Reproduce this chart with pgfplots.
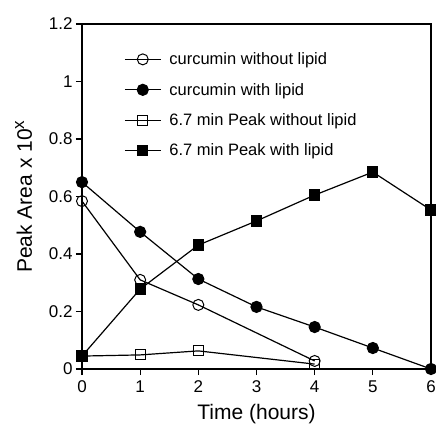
\documentclass[border=0pt]{standalone}
\usepackage{fontspec}
\setmainfont{Liberation Sans}
\usepackage{pgfplots}
\pgfplotsset{compat=1.18}

\begin{document}
\begin{tikzpicture}
\begin{axis}[
    width=349pt, height=345pt,
    scale only axis,
    xmin=0, xmax=6,
    ymin=0, ymax=1.2,
    xtick={0,1,2,3,4,5,6},
    ytick={0,0.2,0.4,0.6,0.8,1,1.2},
    yticklabels={0,0.2,0.4,0.6,0.8,1,1.2},
    tick align=outside,
    tick pos=left,
    major tick length=6pt,
    axis line style={line width=1.4pt},
    every tick/.style={black, line width=1.2pt},
    tick label style={font=\fontsize{17}{19}\selectfont},
    xticklabel style={yshift=-2pt},
    /pgf/number format/assume math mode=true,
    xlabel={Time (hours)},
    ylabel={Peak Area x 10\textsuperscript{\fontsize{17}{19}\selectfont x}},
    label style={font=\fontsize{21}{24}\selectfont},
    xlabel style={yshift=-5pt},
    ylabel style={yshift=10pt},
    legend style={draw=none, fill=none, at={(axis cs:0.67,1.115)}, anchor=north west,
        font=\fontsize{16.5}{18}\selectfont, row sep=13pt, column sep=6pt},
    legend cell align=left,
    legend image code/.code={
        \draw[mark repeat=2,mark phase=2] plot coordinates {(0pt,0pt) (18pt,0pt) (36pt,0pt)};
    },
    every axis plot/.append style={black, line width=1.2pt, mark size=5.5pt},
]
\addplot[mark=o, mark options={line width=1pt}] coordinates {
    (0,0.584)(1,0.31)(2,0.223)(4,0.028)
};
\addplot[mark=*] coordinates {
    (0,0.65)(1,0.477)(2,0.313)(3,0.216)(4,0.146)(5,0.073)(6,0.0)
};
\addplot[mark=square, mark options={line width=1pt}, mark size=5pt] coordinates {
    (0,0.045)(1,0.049)(2,0.063)(4,0.017)
};
\addplot[mark=square*, mark size=5pt] coordinates {
    (0,0.045)(1,0.278)(2,0.431)(3,0.515)(4,0.605)(5,0.685)(6,0.553)
};
\legend{curcumin without lipid, curcumin with lipid, 6.7 min Peak without lipid, 6.7 min Peak with lipid}
\end{axis}
\pgfresetboundingbox
\path[use as bounding box] (current axis.south west) ++(-82pt,-60pt) rectangle ++(436pt,429pt);
\end{tikzpicture}
\end{document}
